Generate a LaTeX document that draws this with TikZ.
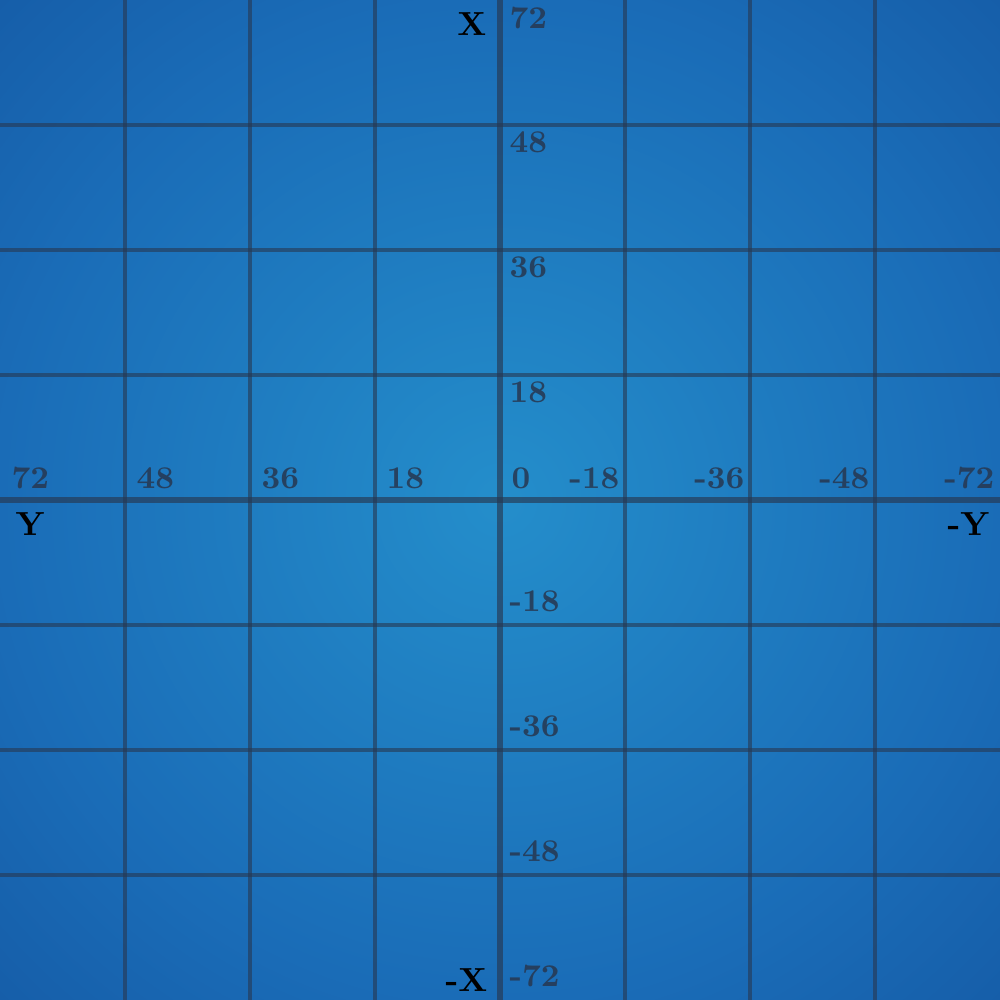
\documentclass[tikz,border=0pt]{standalone}
\usepackage{tikz}
\usetikzlibrary{positioning}

\definecolor{bgin}{RGB}{36,142,203}
\definecolor{bgmid}{RGB}{26,108,183}
\definecolor{bgout}{RGB}{22,94,169}
\definecolor{gridcol}{RGB}{39,55,80}

\pgfdeclareradialshading{bluebg}{\pgfpoint{0bp}{0bp}}{%
  color(0bp)=(bgin); color(25bp)=(bgmid); color(35.4bp)=(bgout); color(50bp)=(bgout)}

\begin{document}
\begin{tikzpicture}[
  gridline/.style={draw=gridcol, draw opacity=0.6, line width=1.1pt},
  axisline/.style={draw=gridcol, draw opacity=0.65, line width=1.8pt},
  tick/.style={font=\fontsize{9}{11}\selectfont\bfseries, text=gridcol, text opacity=0.85, inner sep=0pt},
  axislabel/.style={font=\fontsize{9.5}{11}\selectfont\bfseries, text=black, inner sep=0pt}
]
  \useasboundingbox (-5,-5) rectangle (5,5);
  \shade[shading=bluebg] (-5,-5) rectangle (5,5);

  % grid
  \foreach \p in {-3.75,-2.5,-1.25,1.25,2.5,3.75} {
    \draw[gridline] (\p,-5) -- (\p,5);
    \draw[gridline] (-5,\p) -- (5,\p);
  }
  \draw[axisline] (0,-5) -- (0,5);
  \draw[axisline] (-5,0) -- (5,0);

  % values on the vertical axis
  \foreach \y/\v [count=\i] in {5/72,3.75/48,2.5/36,1.25/18}
    \node[tick, anchor=north west] (vp\i) at (0.09,\y-0.06) {\v};
  \foreach \y/\v [count=\i] in {-1.25/-18,-2.5/-36,-3.75/-48,-5/-72}
    \node[tick, anchor=south west] (vn\i) at (0.09,\y+0.12) {\v};

  % values on the horizontal axis
  \foreach \x/\v [count=\i] in {-5/72,-3.75/48,-2.5/36,-1.25/18,0/0}
    \node[tick, anchor=south west] (hp\i) at (\x+0.11,0.1) {\v};
  \foreach \x/\v [count=\i] in {1.25/-18,2.5/-36,3.75/-48,5/-72}
    \node[tick, anchor=south east] (hn\i) at (\x-0.05,0.1) {\v};

  % axis names
  \node[axislabel, anchor=north east] (xpos) at (-0.13,4.88) {X};
  \node[axislabel, anchor=south east] (xneg) at (-0.12,-4.92) {-X};
  \node[axislabel, anchor=north west] (ypos) at (-4.85,-0.12) {Y};
  \node[axislabel, anchor=north east] (yneg) at (4.9,-0.12) {-Y};
\end{tikzpicture}
\end{document}
